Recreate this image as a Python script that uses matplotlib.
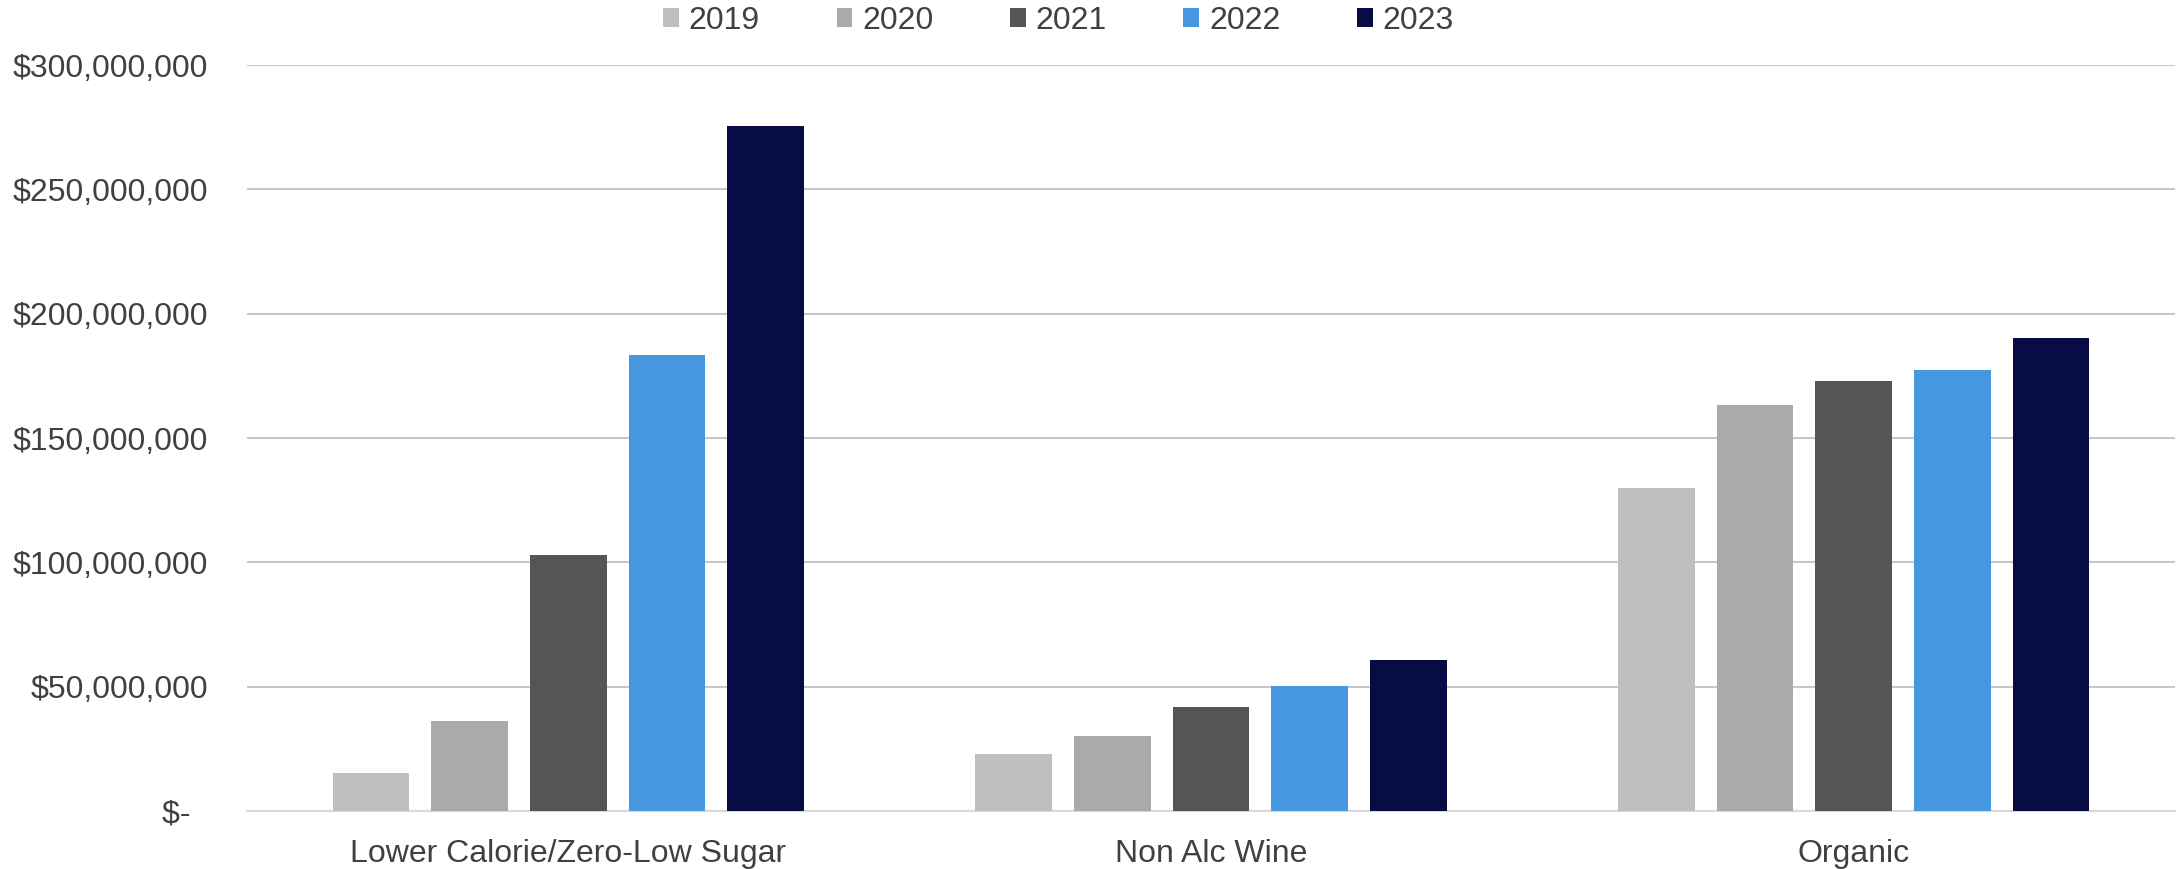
import numpy as np
import matplotlib.pyplot as plt
from matplotlib.ticker import FuncFormatter

plt.rcParams['font.family'] = ['Liberation Sans', 'DejaVu Sans']

categories = ['Lower Calorie/Zero-Low Sugar', 'Non Alc Wine', 'Organic']
years = ['2019', '2020', '2021', '2022', '2023']
sales_2019 = [15.4e6, 22.9e6, 130.1e6]
sales_2020 = [36.2e6, 30.2e6, 163.2e6]
sales_2021 = [102.8e6, 41.7e6, 172.8e6]
sales_2022 = [183.3e6, 50.3e6, 177.5e6]
sales_2023 = [275.6e6, 60.7e6, 190.3e6]
series = [sales_2019, sales_2020, sales_2021, sales_2022, sales_2023]
colors = ['#BFBFBF', '#AAAAAA', '#555555', '#4598E0', '#080C45']

text_col = '#404040'

fig = plt.figure(figsize=(21.78, 8.69), dpi=100)
ax = fig.add_axes([0.1134, 0.0667, 0.8852, 0.8585])

x = np.arange(len(categories))
step = 0.1535
width = 0.119
for i, (vals, c) in enumerate(zip(series, colors)):
    ax.bar(x + (i - 2) * step, vals, width, color=c, label=years[i], zorder=3)

ax.set_xlim(-0.5, 2.5)
ax.set_ylim(0, 300e6)
ax.set_yticks(np.arange(0, 300e6 + 1, 50e6))


def money(v, pos):
    if v == 0:
        return '$-  '
    return '${:,.0f}'.format(v)


ax.yaxis.set_major_formatter(FuncFormatter(money))
ax.set_xticks(x)
ax.set_xticklabels(categories)

ax.grid(axis='y', color='#C8C8C8', linewidth=1.5, zorder=0)
ax.tick_params(axis='both', length=0, labelsize=23, labelcolor=text_col)
ax.tick_params(axis='y', pad=28)
ax.tick_params(axis='x', pad=20)

for s in ['top', 'right', 'left']:
    ax.spines[s].set_visible(False)
ax.spines['bottom'].set_color('#D9D9D9')
ax.spines['bottom'].set_linewidth(1.5)

leg = fig.legend(loc='center', bbox_to_anchor=(0.486, 0.976), ncol=5, frameon=False,
                 fontsize=23, handlelength=0.5, handleheight=0.5, handletextpad=0.3,
                 columnspacing=2.4)
for t in leg.get_texts():
    t.set_color(text_col)

fig.savefig('out.png', dpi=100, facecolor='white')
